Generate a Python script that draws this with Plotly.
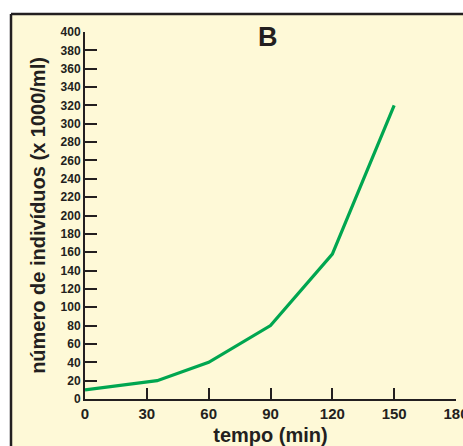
import plotly.graph_objects as go

tempo_min = [0, 35, 60, 90, 120, 150]
individuos = [10, 20, 40, 80, 158, 320]
x_ticks = [0, 30, 60, 90, 120, 150, 180]
y_ticks = list(range(0, 401, 20))

W, H = 463, 446
dark = "#231f20"
panel = "#fef9d7"
green = "#00a650"
fam = "Liberation Sans, Arial, Helvetica, sans-serif"

fig = go.Figure()
fig.add_trace(go.Scatter(x=tempo_min, y=individuos, mode="lines",
                         line=dict(color=green, width=3.2), hoverinfo="skip"))

# panel background and border
fig.add_shape(type="rect", xref="paper", yref="paper",
              x0=11/W, x1=1.0, y0=0, y1=(H-14)/H,
              fillcolor=panel, line=dict(width=0), layer="below")
fig.add_shape(type="line", xref="paper", yref="paper",
              x0=11/W, x1=1.0, y0=(H-14)/H, y1=(H-14)/H,
              line=dict(color=dark, width=2.5), layer="below")
fig.add_shape(type="line", xref="paper", yref="paper",
              x0=11/W, x1=11/W, y0=0, y1=(H-14)/H,
              line=dict(color=dark, width=2.5), layer="below")

fig.add_annotation(text="B", xref="paper", yref="paper",
                   x=268/W, y=(H-37)/H, showarrow=False,
                   font=dict(family=fam, size=27, color=dark, weight="bold"),
                   xanchor="center", yanchor="middle")

fig.update_layout(
    width=W, height=H,
    margin=dict(l=0, r=0, t=0, b=0, autoexpand=False),
    paper_bgcolor="white",
    plot_bgcolor="rgba(0,0,0,0)",
    showlegend=False,
    xaxis=dict(
        domain=[85/W, 456/W], range=[0, 180], automargin=False,
        tickvals=x_ticks, ticktext=[str(v) for v in x_ticks],
        ticks="inside", ticklen=11, tickwidth=2, tickcolor=dark,
        showline=True, linecolor=dark, linewidth=2,
        showgrid=False, zeroline=False, ticklabeloverflow="allow",
        tickfont=dict(family=fam, size=15, color=dark, weight="bold"),
        title=dict(text="tempo (min)", standoff=8,
                   font=dict(family=fam, size=20, color=dark, weight="bold")),
    ),
    yaxis=dict(
        domain=[(H-399)/H, (H-32)/H], range=[0, 400], automargin=False,
        tickvals=y_ticks, ticktext=[str(v) for v in y_ticks],
        ticks="inside", ticklen=12, tickwidth=2, tickcolor=dark,
        showline=True, linecolor=dark, linewidth=2,
        showgrid=False, zeroline=False, ticklabeloverflow="allow",
        tickfont=dict(family=fam, size=12, color=dark, weight="bold"),
        title=dict(text="número de indivíduos (x 1000/ml)", standoff=10,
                   font=dict(family=fam, size=20, color=dark, weight="bold")),
    ),
)

fig.write_html("out.html", config={"displayModeBar": False},
               post_script="document.body.style.margin='0';")
